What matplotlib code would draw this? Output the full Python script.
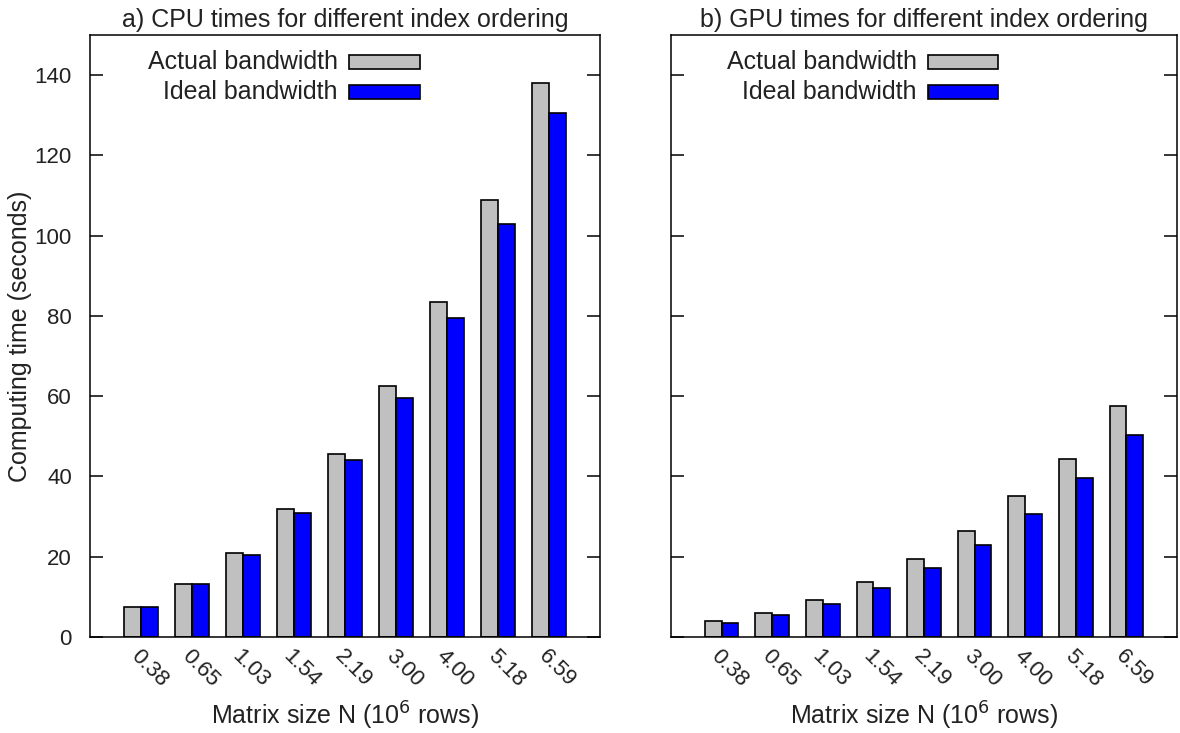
import numpy as np
import matplotlib
matplotlib.use("Agg")
from matplotlib import pyplot as plt
from matplotlib.patches import Rectangle

plt.rcParams['font.family'] = ['Liberation Sans', 'DejaVu Sans']
plt.rcParams['text.color'] = '#222222'
plt.rcParams['xtick.labelcolor'] = '#222222'
plt.rcParams['ytick.labelcolor'] = '#222222'
plt.rcParams['axes.labelcolor'] = '#222222'

# data
sizes = ["0.38", "0.65", "1.03", "1.54", "2.19", "3.00", "4.00", "5.18", "6.59"]
cpu_actual = [7.5, 13.3, 21.0, 32.0, 45.5, 62.5, 83.5, 109.0, 138.0]
cpu_ideal = [7.4, 13.3, 20.5, 31.0, 44.0, 59.5, 79.5, 103.0, 130.5]
gpu_actual = [4.0, 5.9, 9.25, 13.75, 19.5, 26.4, 35.2, 44.4, 57.6]
gpu_ideal = [3.4, 5.4, 8.25, 12.25, 17.1, 23.0, 30.7, 39.6, 50.3]

titles = ["a) CPU times for different index ordering",
          "b) GPU times for different index ordering"]
series_names = ["Actual bandwidth", "Ideal bandwidth"]
colors = ["#c0c0c0", "#0000ff"]

fig = plt.figure(figsize=(11.8, 7.33), dpi=100)
W, H = 1180.0, 733.0
ax1 = fig.add_axes([90 / W, (H - 637) / H, 510 / W, 602 / H])
ax2 = fig.add_axes([671 / W, (H - 637) / H, 506 / W, 602 / H])

x = np.arange(len(sizes))
bw = 1.0 / 3

for ax, title, act, ide in [(ax1, titles[0], cpu_actual, cpu_ideal),
                            (ax2, titles[1], gpu_actual, gpu_ideal)]:
    ax.bar(x - bw / 2, act, bw, color=colors[0], edgecolor="black", linewidth=1.2)
    ax.bar(x + bw / 2, ide, bw, color=colors[1], edgecolor="black", linewidth=1.2)
    ax.set_xlim(-1, 9)
    ax.set_ylim(0, 150)
    ax.set_yticks(np.arange(0, 141, 20))
    ax.set_xticks(x)
    ax.set_xticklabels(sizes, rotation=-45, ha="left", va="top",
                       rotation_mode="anchor", fontsize=16)
    ax.tick_params(axis="x", length=0, pad=6)
    ax.tick_params(axis="y", direction="in", length=9.5, width=1.1,
                   right=True, labelsize=16, pad=13)
    for s in ax.spines.values():
        s.set_linewidth(1.1)
    ax.set_title(title, fontsize=18, pad=6)
    ax.set_xlabel("Matrix size N (10$^6$ rows)", fontsize=18)
    ax.xaxis.set_label_coords(0.5, -0.105)

    # gnuplot-style key: right-aligned text, sample box after it
    for k, name in enumerate(series_names):
        yc = 0.955 - k * 0.049
        ax.text(0.486, yc, name, transform=ax.transAxes, ha="right",
                va="center", fontsize=18)
        ax.add_patch(Rectangle((0.508, yc - 0.0117), 0.139, 0.0234,
                               transform=ax.transAxes, facecolor=colors[k],
                               edgecolor="black", linewidth=1.2, clip_on=False))

ax1.set_ylabel("Computing time (seconds)", fontsize=18, labelpad=2)
ax2.set_yticklabels([])

fig.savefig("out.png", dpi=100)
